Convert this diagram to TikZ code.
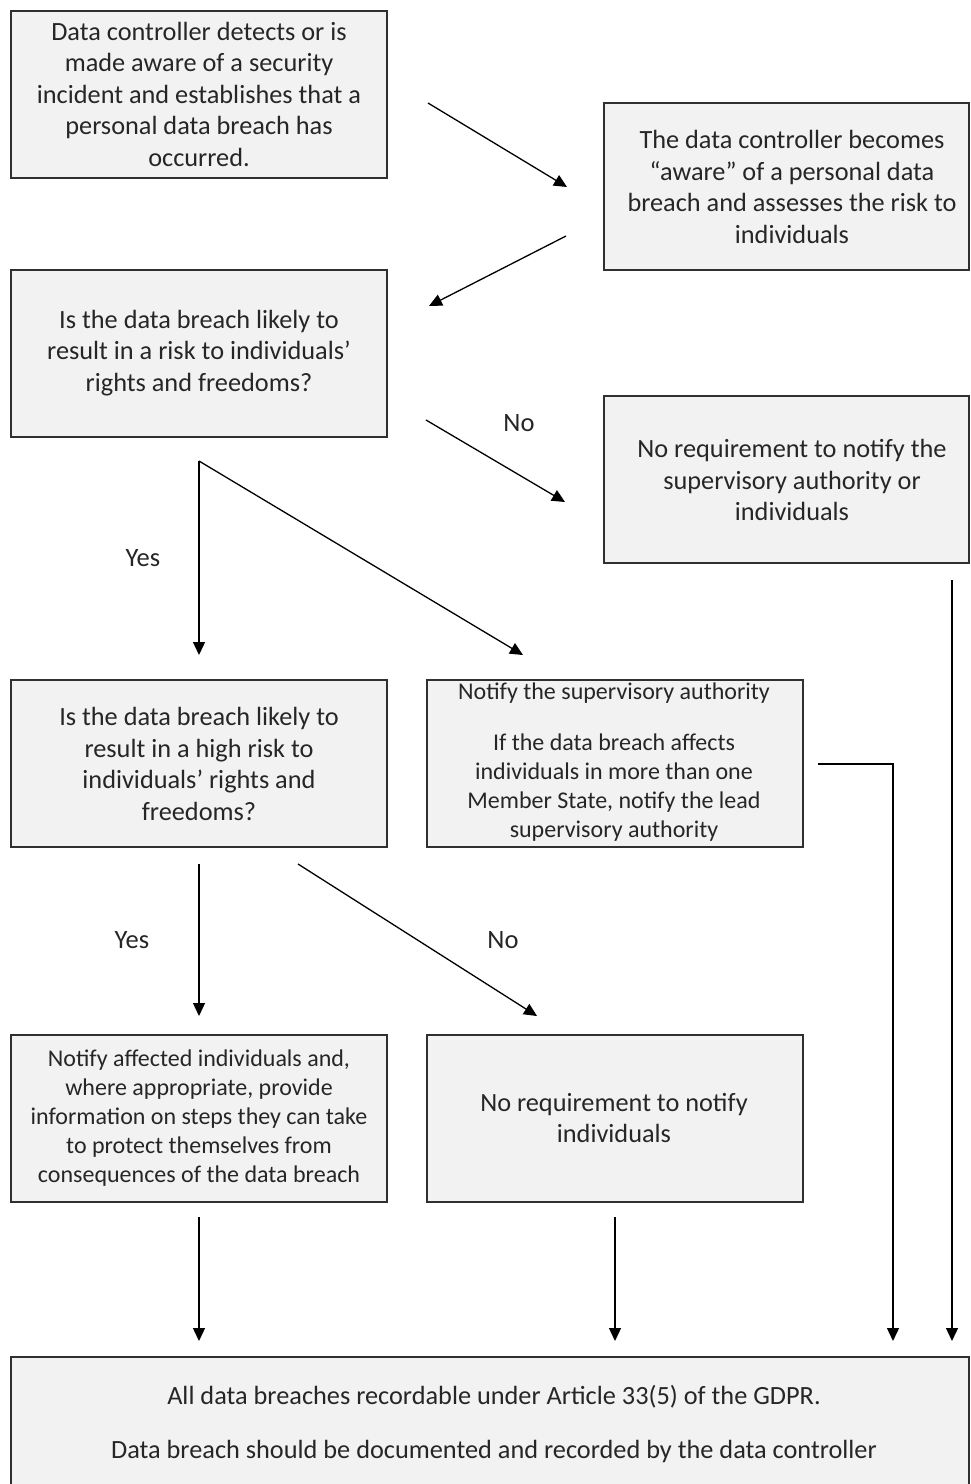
\documentclass[tikz,border=0pt]{standalone}
\usepackage{fontspec}
\setmainfont{Carlito}
\usetikzlibrary{arrows.meta}
\definecolor{boxfill}{HTML}{F2F2F2}
\definecolor{ink}{HTML}{262626}
\definecolor{edge}{HTML}{303030}
\begin{document}
\begin{tikzpicture}[x=1pt,y=-1pt,
  box/.style={draw=edge,fill=boxfill,line width=1.6pt,inner sep=0pt},
  txt/.style={text=ink,align=center,inner sep=0pt,font=\fontsize{26.3}{31.5}\selectfont},
  small/.style={text=ink,align=center,inner sep=0pt,font=\fontsize{24}{29}\selectfont},
  lbl/.style={text=ink,inner sep=0pt,font=\fontsize{26.5}{30}\selectfont},
  arr/.style={draw=black,line width=1.3pt,-{Triangle[length=13pt,width=12pt]}}]
\clip (0,0) rectangle (970,1484);
\fill[white] (0,0) rectangle (970,1484);
% boxes
\draw[box] (11,11) rectangle (387,178);
\draw[box] (604,103) rectangle (969,270);
\draw[box] (11,270) rectangle (387,437);
\draw[box] (604,396) rectangle (969,563);
\draw[box] (11,680) rectangle (387,847);
\draw[box] (427,680) rectangle (803,847);
\draw[box] (11,1035) rectangle (387,1202);
\draw[box] (427,1035) rectangle (803,1202);
\draw[box] (11,1357) rectangle (969,1500);
% texts
\node[txt] (t1) at (199,94) {Data controller detects or is\\made aware of a security\\incident and establishes that a\\personal data breach has\\occurred.};
\node[txt] (t2) at (792,187) {The data controller becomes\\“aware” of a personal data\\breach and assesses the risk to\\individuals};
\node[txt] (t3) at (199,353) {Is the data breach likely to\\result in a risk to individuals’\\rights and freedoms?};
\node[txt] (t4) at (792,480) {No requirement to notify the\\supervisory authority or\\individuals};
\node[txt] (t5) at (199,764) {Is the data breach likely to\\result in a high risk to\\individuals’ rights and\\freedoms?};
\node[small] (t6a) at (614,693) {Notify the supervisory authority};
\node[small] (t6b) at (614,788) {If the data breach affects\\individuals in more than one\\Member State, notify the lead\\supervisory authority};
\node[small] (t7) at (199,1118) {Notify affected individuals and,\\where appropriate, provide\\information on steps they can take\\to protect themselves from\\consequences of the data breach};
\node[txt] (t8) at (614,1118) {No requirement to notify\\individuals};
\node[txt] (t9a) at (494,1397) {All data breaches recordable under Article 33(5) of the GDPR.};
\node[txt] (t9b) at (494,1451) {Data breach should be documented and recorded by the data controller};
% labels
\node[lbl] (no1) at (519,423) {No};
\node[lbl] (yes1) at (143,558) {Yes};
\node[lbl] (yes2) at (132,940) {Yes};
\node[lbl] (no2) at (503,940) {No};
% arrow end points
\coordinate (a1s) at (428,103); \coordinate (a1e) at (567,187);
\coordinate (a2s) at (566,236); \coordinate (a2e) at (429,306);
\coordinate (a3s) at (426,420); \coordinate (a3e) at (565,502);
\coordinate (a4s) at (199,461); \coordinate (a4e) at (199,655);
\coordinate (a5e) at (523,655);
\coordinate (a6s) at (199,864); \coordinate (a6e) at (199,1016);
\coordinate (a7s) at (298,864); \coordinate (a7e) at (537,1016);
\coordinate (a8s) at (199,1217); \coordinate (a8e) at (199,1341);
\coordinate (a9s) at (615,1217); \coordinate (a9e) at (615,1341);
\coordinate (a10s) at (818,764); \coordinate (a10m) at (893,764); \coordinate (a10e) at (893,1341);
\coordinate (a11s) at (952,580); \coordinate (a11e) at (952,1341);
\draw[arr] (a1s) -- (a1e);
\draw[arr] (a2s) -- (a2e);
\draw[arr] (a3s) -- (a3e);
\draw[arr] (a4s) -- (a4e);
\draw[arr] (a4s) -- (a5e);
\draw[arr] (a6s) -- (a6e);
\draw[arr] (a7s) -- (a7e);
\draw[arr] (a8s) -- (a8e);
\draw[arr] (a9s) -- (a9e);
\draw[arr] (a10s) -- (a10m) -- (a10e);
\draw[arr] (a11s) -- (a11e);
\end{tikzpicture}
\end{document}
